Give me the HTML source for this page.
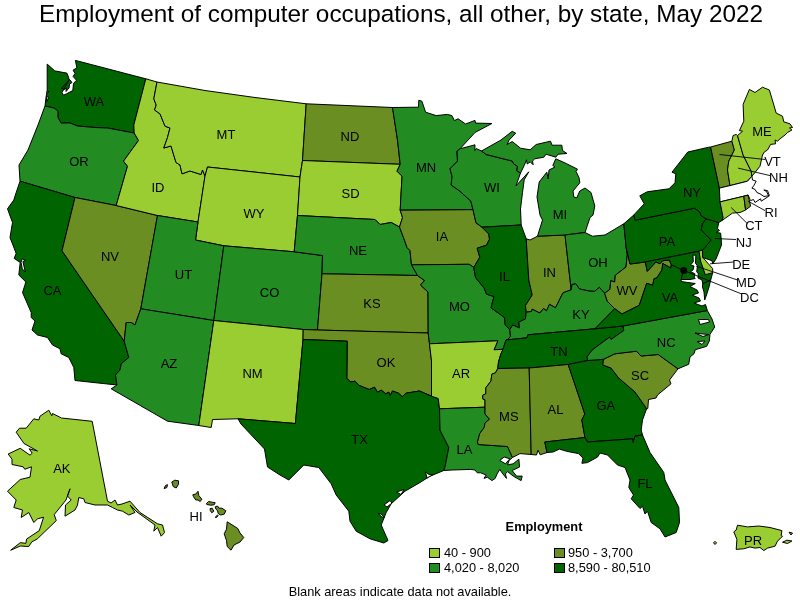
<!DOCTYPE html>
<html><head><meta charset="utf-8">
<style>
html,body{margin:0;padding:0;background:#fff;}
body{width:800px;height:600px;overflow:hidden;position:relative;font-family:"Liberation Sans",sans-serif;}
svg{position:absolute;left:0;top:0;}
text{font-family:"Liberation Sans",sans-serif;fill:#000;}
svg{will-change:transform;}
.t{font-size:24.3px;}
.l{font-size:12.8px;}
.s{font-size:13px;}
.st path{stroke:#000;stroke-width:1;stroke-linejoin:round;}
.ld line{stroke:#000;stroke-width:0.9;}
.c0{fill:#fff;}.c1{fill:#9acd32;}.c2{fill:#6b8e23;}.c3{fill:#228b22;}.c4{fill:#006400;}
</style></head><body>
<svg width="800" height="600" viewBox="0 0 800 600">
<text class="t" x="401" y="22" text-anchor="middle">Employment of computer occupations, all other, by state, May 2022</text>
<g class="st">
<path class="c4" d="M45,106 46,97.5 47.2,91 47.2,64.1 54.8,70.9 66.8,73.1 68.6,77.2 69,80 62,92.5 63.5,95.2 66.8,93.7 72.8,90.5 73.5,83.6 76.5,80.2 73.1,76.5 75,73.5 73.1,70.1 76.9,67.9 75.4,60.4 145.8,78.8 133.8,125 134.2,133 107.5,128 95,127.5 77.5,126 70,123 61,123 58,117.5 58,111 54,108ZM61.5,88.5 69.5,79.5 72,82.5 69.5,84 69,88 66,91.5 66.3,88 64.5,89.5Z"/>
<path class="c3" d="M45,106 54,108 58,111 58,117.5 61,123 70,123 77.5,126 95,127.5 107.5,128 134.2,133 138.5,140.5 123.5,161.2 127.5,166.2 116.2,205.5 75,197.5 20,181.2 19,165 28,150 38,125Z"/>
<path class="c4" d="M20,181.2 75,197.5 62,250.8 124.2,341.2 128.8,357.5 121.2,363.8 120,370 115.5,375 117,385 75,380.5 73.8,367.5 68.8,357.5 61.2,353.8 60,348.8 52.5,345 47.5,337.5 37.5,335 32,330 35,321 31.2,317.5 31.2,312.5 22.5,292.5 25.9,282 18.8,275 20.2,262.5 14.2,258.4 16.1,253.5 14.5,249 10,237.5 12.5,222.5 7.5,208.8 13.8,200 16.2,192.5Z"/>
<path class="c2" d="M75,197.5 116.2,205.5 157.5,215.5 140.8,308.8 135,325 131.2,322.5 126.2,322.5 124.2,341.2 62,250.8Z"/>
<path class="c1" d="M133.8,125 145.8,78.8 157,82 153.8,98.8 156.2,105 154.5,110 160,113.8 165,126.2 170,128 167.5,137.5 163.8,148 171,146 176,162.5 180,165 182,173.8 190,171 201,174.5 202.5,170 205,176 198,222 157.5,215.5 116.2,205.5 127.5,166.2 123.5,161.2 138.5,140.5 134.2,133Z"/>
<path class="c1" d="M157,82 205,90.5 255,97.5 306.2,103.8 302.5,160.5 300,177 207.5,167 205,176 202.5,170 201,174.5 190,171 182,173.8 180,165 176,162.5 171,146 163.8,148 167.5,137.5 170,128 165,126.2 160,113.8 154.5,110 156.2,105 153.8,98.8Z"/>
<path class="c1" d="M207.5,167 300,177 297.5,215.5 294.2,251.8 223.8,245.8 195.5,240 198,222 205,176Z"/>
<path class="c3" d="M157.5,215.5 198,222 195.5,240 223.8,245.8 213.8,320.5 140.8,308.8Z"/>
<path class="c3" d="M223.8,245.8 294.2,251.8 322.5,255.5 322,273.8 317.5,330 303.2,329.5 213.8,320.5Z"/>
<path class="c3" d="M140.8,308.8 213.8,320.5 198.8,425.5 167.5,421.2 111.2,388.8 117,385 115.5,375 120,370 121.2,363.8 128.8,357.5 124.2,341.2 126.2,322.5 131.2,322.5 135,325Z"/>
<path class="c1" d="M213.8,320.5 303.2,329.5 303,339.5 295.4,423.5 238,418.8 212.5,419.5 211.2,427.5 198.8,425.5Z"/>
<path class="c2" d="M306.2,103.8 392.5,107.5 397.5,140 400.2,164.3 302.5,160.5Z"/>
<path class="c1" d="M302.5,160.5 400.2,164.3 397,171.2 402,176.2 400.2,210.2 402.5,217.5 399.5,227 391.2,222.5 380,224.5 375,219.5 297.5,215.5 300,177Z"/>
<path class="c3" d="M297.5,215.5 375,219.5 380,224.5 391.2,222.5 399.5,227 403.5,237.5 407,247.5 410,250.5 411.5,264.8 417.5,275.5 322,273.8 322.5,255.5 294.2,251.8Z"/>
<path class="c2" d="M322,273.8 417.5,275.5 424.5,280.5 420.5,285 428,292 428.2,333 317.5,330Z"/>
<path class="c2" d="M303.2,329.5 317.5,330 428.2,333 429.5,343.8 431.5,361 431.5,396.2 419.5,391 406,393.2 402.2,396.7 398.5,393.2 392.5,391 390.2,395.5 388.8,392.2 385.8,393.7 381.2,390.2 377.5,392.2 374.5,387.2 369.2,389.5 358.8,385.3 355,381.2 350.5,382 346.8,378.2 347.2,341.2 303,339.5Z"/>
<path class="c4" d="M303,339.5 347.2,341.2 346.8,378.2 350.5,382 355,381.2 358.8,385.3 369.2,389.5 374.5,387.2 377.5,392.2 381.2,390.2 385.8,393.7 388.8,392.2 390.2,395.5 392.5,391 398.5,393.2 402.2,396.7 406,393.2 419.5,391 431.5,396.2 438.2,398.5 439.5,408.8 440,430 447.5,445 448.8,447.5 445,467 443.8,470.5 430,476.2 420,482.5 405,491.2 391.2,503.8 386.2,512.5 381.2,525 388,540.5 383.8,543 370,538.8 356.2,531.2 350,521.2 348.8,511.2 336.2,495 331.2,483.8 318.8,467.5 303.8,465 288.8,480 280,475 267.5,467 264.5,449 241,424 238,418.8 295.4,423.5Z"/>
<path class="c3" d="M392.5,107.5 418.5,107.2 418.8,100.2 421.9,101.2 425.6,112.2 436.2,115.6 447.5,114.4 451.9,115.6 454.4,120.6 458.1,118.8 465.6,124 475,120.4 475.6,123.1 491.9,123.5 475,132.5 460,148.8 457,151 457.5,161.2 450,168.8 452,176.2 451.2,185 460,191.2 464,195 470.8,201 473,209.7 400.2,210.2 402,176.2 397,171.2 400.2,164.3 397.5,140Z"/>
<path class="c2" d="M400.2,210.2 473,209.7 476,222.8 482,227.2 488.8,234 489.5,239.2 486.5,245.2 477.2,248.2 479.8,257.2 473.8,267.5 469.2,264.3 411.5,264.8 410,250.5 407,247.5 403.5,237.5 399.5,227 402.5,217.5Z"/>
<path class="c3" d="M411.5,264.8 469.2,264.3 473.8,267.5 475.5,277.5 484.2,288.2 486.5,294.2 494,296.5 491,307.8 504.5,317.5 505.2,325 509.8,329.5 510.5,336.2 508.2,339.2 506,340 503,349.3 494,349.8 497.8,340.8 429.5,343.8 428.2,333 428,292 420.5,285 424.5,280.5 417.5,275.5Z"/>
<path class="c1" d="M429.5,343.8 497.8,340.8 494,349.8 503,349.3 500.8,354.2 498.5,361.8 497.8,368.5 495.5,372.8 491.8,374.2 491,381 485.8,387.8 485.8,393.8 482.8,395.2 482.8,399 485,399.8 485,407.2 439.5,408.8 438.2,398.5 431.5,396.2 431.5,361Z"/>
<path class="c3" d="M439.5,408.8 485,407.2 485,414 489.5,419.2 485,423 484.2,427.5 479.8,433.5 477.5,441.8 478.2,444.5 507.5,446.5 512.5,457.5 509,460.5 507.6,464.9 513.2,463.8 518.9,459.2 519.5,467.1 512.1,470.5 516.6,476.1 522.2,476.1 521.1,480.6 513.2,476.1 507.6,471.6 505.4,473.9 506.5,478.4 502,472.8 499.8,469.4 497,474 495.2,478.4 491.9,480.6 487.4,477.2 484,478.4 486.2,475 480.6,472.8 477.2,472.8 475,470 470.5,469.4 452.5,470 443.8,470.5 445,467 448.8,447.5 447.5,445 440,430Z"/>
<path class="c3" d="M460,148.8 475,144.8 474.8,150.6 476.2,148.5 481.5,151 486.2,154.5 500,158 512.2,161 513.8,164 517.5,166.2 516.8,170.8 520.5,173 516,185.8 528.8,171.8 524.2,179.8 522.5,192.5 520.5,209 521.2,225 482,227.2 476,222.8 473,209.7 470.8,201 464,195 460,191.2 451.2,185 452,176.2 450,168.8 457.5,161.2 457,151Z"/>
<path class="c4" d="M482,227.2 521.2,225 526.2,238.8 528.8,280 532.2,295 525.5,305.5 526.2,312.2 525.5,319 518.8,322 519.5,328 512.8,325 509.8,329.5 505.2,325 504.5,317.5 491,307.8 494,296.5 486.5,294.2 484.2,288.2 475.5,277.5 473.8,267.5 479.8,257.2 477.2,248.2 486.5,245.2 489.5,239.2 488.8,234Z"/>
<path class="c2" d="M526.2,238.8 530,240 537.5,236.2 565,235 571.2,289.8 563,292.8 555.5,307.8 549.5,304.3 546.5,310.8 543.5,308.5 539.8,313 532.2,309.2 531.5,311.5 526.2,312.2 525.5,305.5 532.2,295 528.8,280Z"/>
<path class="c3" d="M481.5,151 501,140 512.2,131.3 515.7,133.2 509.2,140 507,144.5 512.2,141.5 520.5,148.2 530.2,149.8 536.2,144.5 550.5,141.2 552,145.2 561.8,145.2 562.5,150.5 567,153.5 558,154.2 555.8,157.2 546,154.2 543.8,157.2 534.8,158.8 532.5,161 533.2,164.8 530.2,161.8 527.2,164 526.5,159.8 524.2,165.5 520.5,173 516.8,170.8 517.5,166.2 513.8,164 512.2,161 500,158 486.2,154.5ZM555.8,158.8 566.2,163.5 577.5,169.2 576,171.5 579,177.5 579.8,182.8 573,191 573.8,197 576.8,197.8 579.8,191 585,188 591,192.5 594.8,206 593,215 590,217.5 585,232.5 565,235 537.5,236.2 542.5,220 540,215 537,197 539.2,182 546.8,172.2 548.2,179 549,170 555,167 552.8,165.5Z"/>
<path class="c3" d="M565,235 585,232.5 592.5,236.2 605,235 623.8,223.8 626.2,247.5 627.3,254.7 626,267 615.3,275.3 614.7,282 610.7,280.7 610,289.3 604.7,293.3 599.3,287.3 594.7,291.3 590,291.2 579.5,289 575.8,283.8 572,284.5 571.2,289.8Z"/>
<path class="c3" d="M509.8,329.5 510.5,336.2 508.2,339.2 506,340 527,337.8 527.8,334.8 595,328.8 614.7,308.7 607.3,301.3 604.7,293.3 599.3,287.3 594.7,291.3 590,291.2 579.5,289 575.8,283.8 572,284.5 571.2,289.8 563,292.8 555.5,307.8 549.5,304.3 546.5,310.8 543.5,308.5 539.8,313 532.2,309.2 531.5,311.5 526.2,312.2 525.5,319 518.8,322 519.5,328 512.8,325Z"/>
<path class="c4" d="M506,340 527,337.8 527.8,334.8 595,328.8 623,326 623.8,330.5 611,339.5 609.5,337.2 592.2,350 587,356.8 587.8,360.5 568.2,364.5 529.2,368 497.8,368.5 498.5,361.8 500.8,354.2 503,349.3Z"/>
<path class="c2" d="M497.8,368.5 529.2,368 531.2,454.5 520,453.6 512.5,457.5 507.5,446.5 478.2,444.5 477.5,441.8 479.8,433.5 484.2,427.5 485,423 489.5,419.2 485,414 485,407.2 485,399.8 482.8,399 482.8,395.2 485.8,393.8 485.8,387.8 491,381 491.8,374.2 495.5,372.8Z"/>
<path class="c2" d="M529.2,368 568.2,364.5 584.8,414 581.8,420 585,437.5 544.8,442 547,452.5 540.2,454.8 538,450.2 536.5,455 531.2,454.5Z"/>
<path class="c4" d="M568.2,364.5 587.8,360.5 603.5,359.3 602.8,365 611,368 618.5,377.8 635,392 645.5,407 646.5,409 642.5,420 641.2,430 642.5,435 635,436.2 633,442.5 632.5,438.8 587.5,442 585,437.5 581.8,420 584.8,414Z"/>
<path class="c4" d="M544.8,442 585,437.5 587.5,442 632.5,438.8 633,442.5 635,436.2 642.5,435 650,452.5 663.8,472.5 665,480 678.8,507.5 679.5,522.5 676.2,532.5 665,537 660,528.8 651.2,522.5 647.5,511.2 645,514 642.5,506.2 640,508.5 631.2,498.8 633.5,495 628.8,487.5 630,480 625,467.5 617.5,465 607.5,455 600,453 597.6,457 587.5,462.6 581.9,463.3 583,458.1 578.5,453.6 567.2,451.4 559.4,449.1 553,452 547,452.5Z"/>
<path class="c2" d="M603.5,359.3 614.8,353.8 636.5,351.2 641,356 658.2,354.5 678,368.8 669.5,380 671,383.8 657.5,395 656,398 648.5,399.5 647.8,408.5 646.5,409 645.5,407 635,392 618.5,377.8 611,368 602.8,365Z"/>
<path class="c3" d="M623,326 707.3,310.5 712,319 714.7,327 710,334.3 709.3,341 706.7,346.3 700,348.3 695.3,349.7 694,353.7 690,357 688.7,364.3 678,368.8 658.2,354.5 641,356 636.5,351.2 614.8,353.8 603.5,359.3 587.8,360.5 587,356.8 592.2,350 609.5,337.2 611,339.5 623.8,330.5Z"/>
<path class="c2" d="M604.7,293.3 610,289.3 610.7,280.7 614.7,282 615.3,275.3 626,267 627.3,254.7 626.2,247.5 630,264 645.3,262 647.3,271.3 656,262 660,263.7 662.7,260.7 669.3,260 671.3,264.7 670.7,268 662.7,263.5 662,270 656.7,278 654,278.7 652.7,285.3 646.7,283.3 639.3,305.3 622,314 614.7,308.7 607.3,301.3Z"/>
<path class="c4" d="M623,326 595,328.8 614.7,308.7 622,314 639.3,305.3 646.7,283.3 652.7,285.3 654,278.7 656.7,278 662,270 662.7,263.5 670.7,268 671.3,264.7 683.3,270.4 681.3,279.5 681,281.5 688,282.5 695.3,283.5 690,286.5 697,290 698.5,293 692,295 699,298 700.5,301 694,303 702,306 705.5,304.5 707.3,310.5ZM702.7,283.5 710.7,280 709,287 706.5,295 704.7,300 704,292 702.5,287Z"/>
<path class="c4" d="M623.8,223.8 633.8,215 635.2,220.2 694.5,208.2 699.8,212 701.2,215.8 706.2,218.8 702.5,223.8 701.2,230 711.2,240 705,247.5 702.5,250 699,251.2 645.3,262 630,264 626.2,247.5Z"/>
<path class="c4" d="M645.3,262 699,251.2 700.7,261.3 705.3,274.7 712.7,272.7 711.5,277 710.7,280 702.7,283.5 702,280 698,278 698.3,273.7 696.7,271.7 697.5,265.8 695.5,263.3 695.8,255.3 693,255 693.3,261.7 690.5,265 694,266 693,270 690.5,271.7 694.8,273.7 694.2,277.5 695.3,278.5 690,279.5 681.3,279.5 683.3,270.4 671.3,264.7 669.3,260 662.7,260.7 660,263.7 656,262 647.3,271.3Z"/>
<path class="c1" d="M699,251.2 702.5,250 702.7,257.3 712.7,268.7 712.7,272.7 705.3,274.7 700.7,261.3Z"/>
<path class="c4" d="M706.2,218.8 718.8,222.5 717.5,228.5 719.5,230.5 716,232.5 720.6,233.1 721.2,238.8 721.5,245 716,259 712.7,264 712,260.7 704,258 702.7,257.3 702.5,250 705,247.5 711.2,240 701.2,230 702.5,223.8Z"/>
<path class="c4" d="M633.8,215 644.2,203.8 639.8,195.8 647.2,191.8 669,188.8 675,182.8 675.8,173.8 672,172.2 687.8,152 708.8,147.2 710.6,147 719.4,188.1 720,201.9 723.1,217.5 721.9,220.6 718.8,222.5 706.2,218.8 701.2,215.8 699.8,212 694.5,208.2 635.2,220.2Z"/>
<path class="c2" d="M719.4,188.1 710.6,147 731.9,141.2 734.4,150 728.8,161.2 727.5,170 730,185.6Z"/>
<path class="c1" d="M731.9,141.2 733.1,135.6 736.2,134.4 737.5,135.6 743.1,155 751.2,171.2 751.9,176.2 747.5,181.2 730,185.6 727.5,170 728.8,161.2 734.4,150Z"/>
<path class="c1" d="M737.5,135.6 742.5,131.2 739.4,130.6 743.8,121.2 743.1,104.4 749.4,89.4 755,92.5 762.5,87.2 769.4,90 776.2,113.1 782.5,116.2 783.8,121.9 790,123.8 792.5,127.5 789.5,128 791.9,130 787.5,132.5 785,135 780,138.8 777.5,141.2 775,140 775.6,143.8 770.6,144.4 767.5,150 764.4,151.9 762.5,155 760,166.2 755,172.5 751.9,176.2 751.2,171.2 743.1,155Z"/>
<path class="c0" d="M719.4,188.1 730,185.6 747.5,181.2 751.9,176.2 752.5,180 756.2,181.2 753.8,185.6 751.9,188.1 755,189.4 756.9,192.5 760,193.8 764,196.5 769.4,195.6 767.5,190.6 763.8,190 766.5,191.5 768.8,196.2 761.2,201.2 760.6,198.8 755,202.5 753.5,199.5 750.6,200.6 750,199.4 748.1,195 743.8,196.2 720,201.9Z"/>
<path class="c1" d="M720,201.9 743.8,196.2 745.6,210 740,212.5 732.5,213.1 721.9,220.6 723.1,217.5Z"/>
<path class="c2" d="M743.8,196.2 748.1,195 750.6,206.2 745.6,210Z"/>
<path class="c1" d="M48.8,410.2 51.8,415.8 52.5,413.5 61.5,418 92.2,421.3 107.5,501.2 111,503 115,500 117.5,505 122,504 130,501.2 140,512.5 157.5,523.8 162.5,525 164.5,532.5 161.2,536.2 157.5,527.5 153.8,531.2 155,525 137,512 130,505 135,512.5 128.8,515 122.5,511.2 117.5,510 112.5,507.5 107.5,505 95,505 85,502.5 83.8,498.8 78.8,497.5 77.5,505 75,510 65,516.2 65.5,505 71.2,500 67.5,496 70,488.8 66,500 54.2,514.6 56.3,520.6 37.2,539 31.9,541.8 28.7,546.5 20.2,546 10.6,550.3 20.2,542.7 25.9,543.3 26.6,539 39.3,530.6 43.6,517.2 37.5,518.8 33.8,522.5 28.8,512.5 21.2,517.5 22.5,510 13.8,507.5 16.2,500 7.5,491.2 20.2,479.5 30,477.2 31.5,466.8 24.8,469.3 23.2,466.8 12,464.5 12,459.2 8.2,454 20.2,448.3 30,455.2 32.2,453.2 29.2,448.8 37.5,451 24,443.5 16.2,432.2 19.5,428.2 26.2,428.2 33.8,418.8 38.8,420 40,416.2Z"/>
<path class="c2" d="M164.1,488.6 165.5,485.4 167.5,484.7 166.8,487.6ZM171.8,482 174.8,480.2 178.5,480.8 178.5,484.2 176.2,488 173.2,486.5ZM192.8,494.8 195.8,494 198,491.3 198.8,495.5 201.8,499.2 200.2,501.5 198,500 195.8,500 193.5,496.7ZM206.2,503.8 208.5,501.5 212.2,502.2 215.2,502.7 214.2,504.8 210.8,505.2 207,504.5ZM210,508.7 212.2,508.2 213.8,511.2 211.8,512.8 210.3,510.5ZM215.2,506.8 217.5,506 219,508.2 222,508.2 225.8,510.8 224.2,514.2 220.5,515 218.2,513.5 217.5,510.5 216,509.3ZM215.2,517.2 217.5,515 218.2,515.8 216,517.7ZM227.2,521.8 237.8,528.5 240,533 243.8,537.5 240,542 234,545 231,550.2 227.2,546.5 226.5,540.5 224.2,533.8 226.5,529.2Z"/>
<path class="c1" d="M737.5,525.2 747.5,526.9 758.8,526 770,527.5 781.9,530.6 781.2,535.6 782.5,536.2 777.5,541.2 775,546.2 767.5,548.1 763.8,550.6 760,547.5 755,548.1 750,546.9 743.8,548.8 736.2,549.4 736.9,539.4 733.8,531.9 736.2,530ZM782.5,542.2 786.9,540.2 791.9,541 787.5,543.5ZM789,532.2 792.5,533.1 791,535ZM713.5,542.9 715,541.3 716.6,542.9 715,544.5Z"/>
<path class="c0" d="M21,262.3 22.3,258.8 25.5,260.3 22.9,261.5 25.3,272 22.3,268.8Z"/>
<path class="c0" d="M499.8,460.4 504.2,457 509.9,458.8 505.4,463.8Z"/>
<path class="c0" d="M46.3,96.5 48.6,97.3 47,101.5Z"/>
<path class="c0" d="M47,91 49.2,91.6 47.2,93.3Z"/>
<path class="c0" d="M384,505 390,500.5 392,503 387,507Z"/>
<path class="c0" d="M396.5,492 404,489.5 401,494.5Z"/>
<path class="c0" d="M425.5,472 429,474.5 432.5,475 427,478Z"/>
<path class="c0" d="M378,513.5 382,517 384.5,517.5 381,514Z"/>
<path class="c0" d="M698.5,319.5 708.5,319.5 709.5,322 700,324.5Z"/>
<path class="c0" d="M695,333 703,334 709,334.5 703,336.5Z"/>
<path class="c0" d="M697,341.5 705,341 702,344.5Z"/>
<circle cx="683.75" cy="270.5" r="3.4" fill="#000" stroke="none"/>

</g>
<g class="ld">
<line x1="719.5" y1="154.5" x2="765" y2="159.5"/>
<line x1="738.1" y1="168.1" x2="770" y2="175.6"/>
<line x1="748.1" y1="201.2" x2="765" y2="210.6"/>
<line x1="731.2" y1="207.5" x2="747.5" y2="223.8"/>
<line x1="715" y1="238.5" x2="736" y2="239.5"/>
<line x1="710" y1="263.8" x2="733.8" y2="262"/>
<line x1="696.2" y1="266.2" x2="737.5" y2="280"/>
<line x1="683.8" y1="270.5" x2="741.2" y2="293.8"/>

</g>
<g class="s">
<text x="94" y="106" text-anchor="middle">WA</text>
<text x="79" y="166" text-anchor="middle">OR</text>
<text x="52.5" y="295" text-anchor="middle">CA</text>
<text x="110" y="261" text-anchor="middle">NV</text>
<text x="158" y="191.5" text-anchor="middle">ID</text>
<text x="226" y="139" text-anchor="middle">MT</text>
<text x="254" y="217.5" text-anchor="middle">WY</text>
<text x="183.5" y="279" text-anchor="middle">UT</text>
<text x="269.5" y="296.5" text-anchor="middle">CO</text>
<text x="169" y="368" text-anchor="middle">AZ</text>
<text x="252.5" y="378" text-anchor="middle">NM</text>
<text x="350" y="141" text-anchor="middle">ND</text>
<text x="350.5" y="198" text-anchor="middle">SD</text>
<text x="358" y="254.5" text-anchor="middle">NE</text>
<text x="372" y="307.5" text-anchor="middle">KS</text>
<text x="386" y="367" text-anchor="middle">OK</text>
<text x="359.5" y="444" text-anchor="middle">TX</text>
<text x="426" y="171.5" text-anchor="middle">MN</text>
<text x="442" y="241" text-anchor="middle">IA</text>
<text x="459.5" y="311" text-anchor="middle">MO</text>
<text x="461" y="378" text-anchor="middle">AR</text>
<text x="464.5" y="453.5" text-anchor="middle">LA</text>
<text x="492" y="192" text-anchor="middle">WI</text>
<text x="504.5" y="281" text-anchor="middle">IL</text>
<text x="549.5" y="277" text-anchor="middle">IN</text>
<text x="560" y="219" text-anchor="middle">MI</text>
<text x="598" y="266.5" text-anchor="middle">OH</text>
<text x="581" y="319" text-anchor="middle">KY</text>
<text x="559" y="356" text-anchor="middle">TN</text>
<text x="508.8" y="421" text-anchor="middle">MS</text>
<text x="555.5" y="413.5" text-anchor="middle">AL</text>
<text x="605.8" y="409.5" text-anchor="middle">GA</text>
<text x="645" y="488" text-anchor="middle">FL</text>
<text x="640" y="379.5" text-anchor="middle">SC</text>
<text x="666.2" y="347" text-anchor="middle">NC</text>
<text x="670" y="302" text-anchor="middle">VA</text>
<text x="627" y="295" text-anchor="middle">WV</text>
<text x="667" y="246" text-anchor="middle">PA</text>
<text x="692" y="197" text-anchor="middle">NY</text>
<text x="762" y="136" text-anchor="middle">ME</text>
<text x="772.5" y="166" text-anchor="middle">VT</text>
<text x="778.5" y="182" text-anchor="middle">NH</text>
<text x="771" y="217" text-anchor="middle">RI</text>
<text x="753.8" y="230" text-anchor="middle">CT</text>
<text x="743.8" y="246.5" text-anchor="middle">NJ</text>
<text x="741.2" y="268.5" text-anchor="middle">DE</text>
<text x="746.2" y="287" text-anchor="middle">MD</text>
<text x="749.5" y="301.5" text-anchor="middle">DC</text>
<text x="61.8" y="473" text-anchor="middle">AK</text>
<text x="196" y="520.5" text-anchor="middle">HI</text>
<text x="753" y="544.5" text-anchor="middle">PR</text>

</g>
<g>
<text class="l" x="544" y="531" text-anchor="middle" font-weight="bold">Employment</text>
<rect x="429.5" y="548.5" width="10" height="9" class="c1" stroke="#000"/>
<text class="l" x="444" y="557">40 - 900</text>
<rect x="554.5" y="548.5" width="10" height="9" class="c2" stroke="#000"/>
<text class="l" x="568" y="557">950 - 3,700</text>
<rect x="429.5" y="563.5" width="10" height="9" class="c3" stroke="#000"/>
<text class="l" x="444" y="572">4,020 - 8,020</text>
<rect x="554.5" y="563.5" width="10" height="9" class="c4" stroke="#000"/>
<text class="l" x="568" y="572">8,590 - 80,510</text>
<text class="l" x="400" y="596" text-anchor="middle">Blank areas indicate data not available.</text>
</g>
</svg>
</body></html>
